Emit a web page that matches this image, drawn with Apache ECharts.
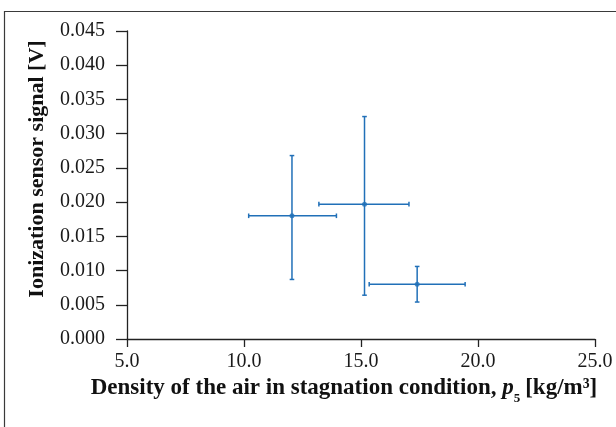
<!DOCTYPE html>
<html>
<head>
<meta charset="utf-8">
<script src="https://cdn.jsdelivr.net/npm/echarts@6/dist/echarts.min.js"></script>
<style>
html,body{margin:0;padding:0;background:#fff;}
#chart{width:616px;height:427px;}
</style>
</head>
<body>
<div id="chart"></div>
<script>
// Data
const densityX = [12.05, 15.15, 17.4];
const signalY = [0.0180, 0.0197, 0.0080];
const xErrLow = [10.2, 13.2, 15.35];
const xErrHigh = [13.95, 17.05, 19.45];
const yErrLow = [0.0087, 0.0064, 0.0054];
const yErrHigh = [0.0268, 0.0325, 0.0106];
const xTicks = [5.0, 10.0, 15.0, 20.0, 25.0];
const yTicks = [0.000, 0.005, 0.010, 0.015, 0.020, 0.025, 0.030, 0.035, 0.040, 0.045];

const blue = '#2170b8';
const serif = '"Liberation Serif", "DejaVu Serif", serif';

const pts = densityX.map((x, i) => [x, signalY[i]]);
const errs = densityX.map((x, i) => [x, signalY[i], xErrLow[i], xErrHigh[i], yErrLow[i], yErrHigh[i]]);

const chart = echarts.init(document.getElementById('chart'), null, {renderer: 'canvas'});
chart.setOption({
  animation: false,
  backgroundColor: '#fff',
  graphic: [{
    type: 'rect', left: 2, top: 9, z: -1,
    shape: {x: 0, y: 0, width: 700, height: 500},
    style: {fill: 'none', stroke: '#3a3a3a', lineWidth: 1.2}
  }],
  grid: {left: 127, right: 21, top: 31, bottom: 88, containLabel: false},
  xAxis: {
    type: 'value', min: xTicks[0], max: xTicks[xTicks.length - 1], interval: 5,
    axisLine: {show: true, lineStyle: {color: '#222', width: 1.3}, onZero: false},
    axisTick: {show: true, inside: false, length: 8, lineStyle: {color: '#222', width: 1.3}},
    splitLine: {show: false},
    axisLabel: {margin: 13, color: '#1a1a1a', fontFamily: serif, fontSize: 20,
      formatter: v => v.toFixed(1)},
    name: '{t|Density of the air in stagnation condition, }{i|p}{s|5}{t|[kg/m³]}',
    nameLocation: 'middle', nameGap: 24,
    nameTextStyle: {
      padding: [0, 34, 0, 0],
      rich: {
        t: {fontFamily: serif, fontWeight: 'bold', fontSize: 23, color: '#111', lineHeight: 27, verticalAlign: 'bottom'},
        i: {fontFamily: serif, fontWeight: 'bold', fontStyle: 'italic', fontSize: 23, color: '#111', lineHeight: 27, verticalAlign: 'bottom'},
        s: {fontFamily: serif, fontWeight: 'bold', fontSize: 13, color: '#111', lineHeight: 27, verticalAlign: 'bottom', padding: [0, 5, -5, 0]}
      }
    }
  },
  yAxis: {
    type: 'value', min: yTicks[0], max: yTicks[yTicks.length - 1], interval: 0.005,
    axisLine: {show: true, lineStyle: {color: '#222', width: 1.3}, onZero: false},
    axisTick: {show: true, inside: false, length: 11, lineStyle: {color: '#222', width: 1.3}},
    splitLine: {show: false},
    axisLabel: {margin: 22, color: '#1a1a1a', fontFamily: serif, fontSize: 20,
      formatter: v => v.toFixed(3)},
    name: 'Ionization sensor signal [V]',
    nameLocation: 'middle', nameGap: 79,
    nameTextStyle: {fontFamily: serif, fontWeight: 'bold', fontSize: 22, color: '#111',
      padding: [0, 0, 0, 32]}
  },
  series: [
    {
      type: 'custom',
      data: errs,
      z: 2,
      renderItem: function (params, api) {
        const x = api.value(0), y = api.value(1);
        const pL = api.coord([api.value(2), y]);
        const pR = api.coord([api.value(3), y]);
        const pB = api.coord([x, api.value(4)]);
        const pT = api.coord([x, api.value(5)]);
        const c = 2.3;
        const st = {stroke: blue, lineWidth: 1.5};
        const line = (x1, y1, x2, y2) => ({type: 'line', shape: {x1, y1, x2, y2}, style: st});
        return {
          type: 'group',
          children: [
            line(pL[0], pL[1], pR[0], pR[1]),
            line(pL[0], pL[1] - c, pL[0], pL[1] + c),
            line(pR[0], pR[1] - c, pR[0], pR[1] + c),
            line(pB[0], pB[1], pT[0], pT[1]),
            line(pB[0] - c, pB[1], pB[0] + c, pB[1]),
            line(pT[0] - c, pT[1], pT[0] + c, pT[1])
          ]
        };
      }
    },
    {
      type: 'scatter',
      data: pts,
      symbol: 'circle',
      symbolSize: 5,
      z: 3,
      itemStyle: {color: blue}
    }
  ]
});
</script>
</body>
</html>
